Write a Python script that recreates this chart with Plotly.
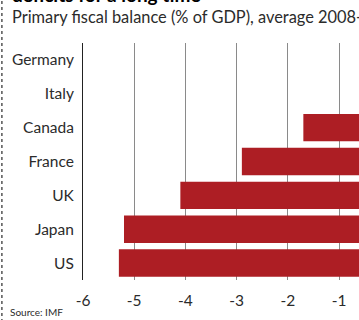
import plotly.graph_objects as go

countries = ["Germany", "Italy", "Canada", "France", "UK", "Japan", "US"]
balance = [1.3, 1.2, -1.7, -2.9, -4.1, -5.2, -5.3]
x_tickvals = [-6, -5, -4, -3, -2, -1]
x_ticktext = ["-6", "-5", "-4", "-3", "-2", "-1"]

title_text = "deficits for a long time"
subtitle_text = "Primary fiscal balance (% of GDP), average 2008-16"
source_text = "Source: IMF"

W, H = 359, 320
ML, MR, MT, MB = 82.7, 0, 43, 39.5
plot_w = W - ML - MR
plot_h = H - MT - MB
px_per_unit = 51.3
x_min = -6
x_max = x_min + plot_w / px_per_unit

FONT = "Lato"
TXT = "#2b2b2b"
RED = "#ad1e24"

fig = go.Figure(
    go.Bar(
        x=balance,
        y=countries,
        orientation="h",
        marker=dict(color=RED, line=dict(width=0)),
        hoverinfo="skip",
    )
)

def px_to_paper_x(px):
    return (px - ML) / plot_w

def px_to_paper_y(py):
    return (H - MB - py) / plot_h

fig.update_layout(
    width=W,
    height=H,
    margin=dict(l=ML, r=MR, t=MT, b=MB, pad=0),
    paper_bgcolor="white",
    plot_bgcolor="white",
    bargap=0.19,
    showlegend=False,
    font=dict(family=FONT, size=14, color=TXT),
    xaxis=dict(
        range=[x_min, x_max],
        tickvals=x_tickvals,
        ticktext=x_ticktext,
        showgrid=True,
        gridcolor="#8a8a8a",
        gridwidth=1,
        zeroline=False,
        showline=False,
        ticks="",
        ticklabelstandoff=9,
        tickfont=dict(family=FONT, size=15.5, color=TXT),
        fixedrange=True,
    ),
    yaxis=dict(
        categoryorder="array",
        categoryarray=countries,
        autorange="reversed",
        showgrid=False,
        zeroline=False,
        showline=True,
        linecolor="#222222",
        linewidth=1,
        ticks="",
        ticklabelstandoff=5,
        tickfont=dict(family=FONT, size=15.5, color=TXT),
        fixedrange=True,
    ),
    annotations=[
        dict(
            text="<b>" + title_text + "</b>",
            xref="paper", yref="paper",
            x=px_to_paper_x(10), y=px_to_paper_y(8),
            xanchor="left", yanchor="bottom",
            showarrow=False,
            font=dict(family=FONT, size=19, color="#000000"),
        ),
        dict(
            text=subtitle_text,
            xref="paper", yref="paper",
            x=px_to_paper_x(10), y=px_to_paper_y(16.5),
            xanchor="left", yanchor="middle",
            showarrow=False,
            font=dict(family=FONT, size=16.4, color=TXT),
        ),
        dict(
            text=source_text,
            xref="paper", yref="paper",
            x=px_to_paper_x(8), y=px_to_paper_y(313),
            xanchor="left", yanchor="middle",
            showarrow=False,
            font=dict(family=FONT, size=10, color=TXT),
        ),
    ],
    shapes=[
        dict(
            type="line",
            xref="paper", yref="paper",
            x0=px_to_paper_x(1.5), x1=px_to_paper_x(1.5),
            y0=px_to_paper_y(-5), y1=px_to_paper_y(H + 5),
            line=dict(color="#555555", width=1.5, dash="dot"),
        )
    ],
)

fig.write_html("out.html")
